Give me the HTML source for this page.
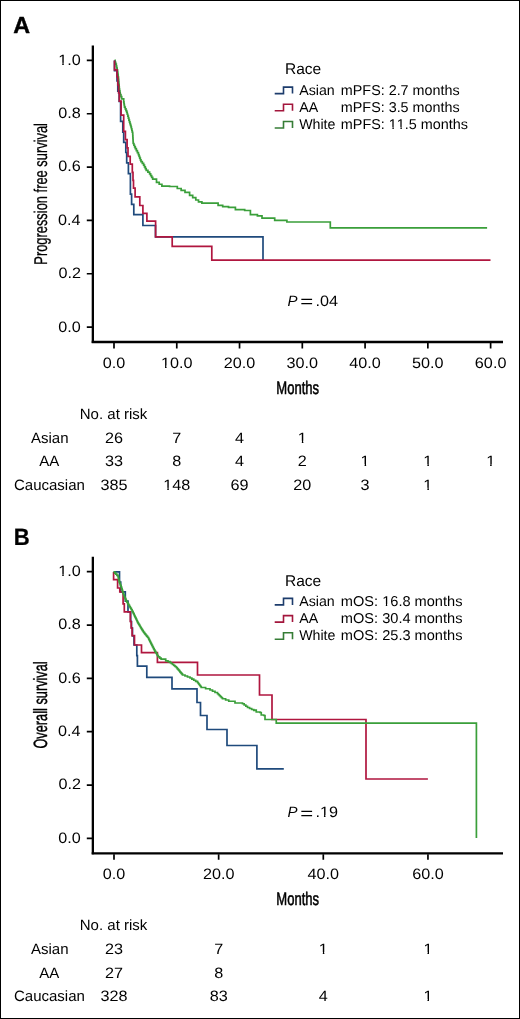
<!DOCTYPE html><html><head><meta charset="utf-8"><title>KM</title><style>html,body{margin:0;padding:0;background:#fff;}svg{display:block;will-change:transform;}text{font-family:"Liberation Sans",sans-serif;fill:#000;font-kerning:none;text-rendering:geometricPrecision;}.b{font-weight:bold;}.i{font-style:italic;}</style></head><body><svg width="520" height="1019" viewBox="0 0 520 1019"><rect x="0.5" y="0.5" width="519" height="1018" fill="#fff" stroke="#000" stroke-width="1"/>
<g transform="translate(13.90,32.90)"><text class="b" x="-0.58" y="0" font-size="23.3" stroke="#000" stroke-width="0.455" stroke-linejoin="round">A</text></g>
<path d="M92.85,45.4 V343" stroke="#000" stroke-width="2.3" fill="none"/>
<path d="M91.7,342.05 H503" stroke="#000" stroke-width="2.4" fill="none"/>
<path d="M86.8,327.1H92M86.8,273.76H92M86.8,220.42H92M86.8,167.08H92M86.8,113.74H92M86.8,60.4H92M114,343V348.5M176.77,343V348.5M239.54,343V348.5M302.31,343V348.5M365.08,343V348.5M427.85,343V348.5M490.62,343V348.5" stroke="#000" stroke-width="1.7" fill="none"/>
<g transform="translate(80.10,331.50) scale(1.0800,1)"><text class="r" x="-20.27" y="0" font-size="15">0.0</text></g>
<g transform="translate(80.10,278.16) scale(1.0800,1)"><text class="r" x="-20.10" y="0" font-size="15">0.2</text></g>
<g transform="translate(80.10,224.82) scale(1.0800,1)"><text class="r" x="-20.41" y="0" font-size="15">0.4</text></g>
<g transform="translate(80.10,171.48) scale(1.0800,1)"><text class="r" x="-20.19" y="0" font-size="15">0.6</text></g>
<g transform="translate(80.10,118.14) scale(1.0800,1)"><text class="r" x="-20.20" y="0" font-size="15">0.8</text></g>
<g transform="translate(80.10,64.80) scale(1.0800,1)"><text class="r" x="-20.27" y="0" font-size="15">1.0</text><rect x="-20.22" y="-2.20" width="3.68" height="3.20" fill="#fff"/><rect x="-15.12" y="-2.20" width="3.57" height="3.20" fill="#fff"/></g>
<g transform="translate(114.00,367.60) scale(1.0800,1)"><text class="r" x="-10.43" y="0" font-size="15">0.0</text></g>
<g transform="translate(176.77,367.60) scale(1.0800,1)"><text class="r" x="-14.60" y="0" font-size="15">10.0</text><rect x="-14.55" y="-2.20" width="3.68" height="3.20" fill="#fff"/><rect x="-9.46" y="-2.20" width="3.57" height="3.20" fill="#fff"/></g>
<g transform="translate(239.54,367.60) scale(1.0800,1)"><text class="r" x="-14.60" y="0" font-size="15">20.0</text></g>
<g transform="translate(302.31,367.60) scale(1.0800,1)"><text class="r" x="-14.60" y="0" font-size="15">30.0</text></g>
<g transform="translate(365.08,367.60) scale(1.0800,1)"><text class="r" x="-14.60" y="0" font-size="15">40.0</text></g>
<g transform="translate(427.85,367.60) scale(1.0800,1)"><text class="r" x="-14.60" y="0" font-size="15">50.0</text></g>
<g transform="translate(490.62,367.60) scale(1.0800,1)"><text class="r" x="-14.60" y="0" font-size="15">60.0</text></g>
<g transform="translate(298.05,393.90) scale(0.7179,1)"><text class="r" x="-30.26" y="0" font-size="18.2" stroke="#000" stroke-width="0.578" stroke-linejoin="round">Months</text></g>
<g transform="translate(47.30,193.75) rotate(-90) scale(0.6999,1)"><text class="r" x="-101.38" y="0" font-size="18.4" stroke="#000" stroke-width="0.270" stroke-linejoin="round">Progression free survival</text></g>
<path d="M114.5,60.4H115.1V62.27H115.7V64.13H116.3V66H116.73V68H117.17V70H117.6V72H117.8V73.6H118V75.2H118.2V76.8H118.4V78.4H118.6V80H118.74V81.8H118.88V83.6H119.02V85.4H119.16V87.2H119.3V89H119.6V90.83H119.9V92.67H120.2V94.5H120.95V96.7H121.7V98.9H123.7V101.9H123.97V103.63H124.23V105.37H124.5V107.1H125.23V108.83H125.97V110.57H126.7V112.3H127.25V114.25H127.8V116.2H128.35V118.15H128.9V120.1H129.43V121.82H129.95V123.55H130.47V125.28H131V127H131.43V128.75H131.85V130.5H132.27V132.25H132.7V134H132.8V135.9H132.9V137.8H133V139.7H133.1V141.6H133.2V143.5H133.9V145.23H134.6V146.97H135.3V148.7H136.33V150.7H137.37V152.7H138.4V154.7H139.05V156.45H139.7V158.2H140.35V159.95H141V161.7H142.3V163.4H143.6V165.1H144.47V166.83H145.33V168.57H146.2V170.3H147.9V172.05H149.6V173.8H150.63V175.6H151.67V177.4H152.7V179.2H156.5V182.3H159.2V184.25H161.9V186.2H169.6V186.5H177.3V188.5H181.15V190.4H185V192.3H189.6V195.4H192.7V197.7H195.8V200H198.5V201.9H201.9V203.1H213.5V203.1H218.1V205.4H222.7V206.6H228.5V207.3H235.4V209.6H244.7V210.5H250.4V214.6H257.4V215.8H262V218.1H274.7V218.1H274.7V220.4H286.9V220.4H286.9V222H330.3V222H330.3V227.8H487.1V227.8" stroke="#3a9f3a" stroke-width="1.7" fill="none"/>
<path d="M114.5,60.4H114.5V70.7H117V81H117.8V91.2H119.2V101.5H120.6V111.8H120.6V121.4H122.8V132.2H123.7V142.4H125.8V152.5H126.7V162.8H128.4V173.6H130.4V183.8H130.4V194.1H131.6V204.3H133.8V214.6H142.9V225.5H155.5V236.9H263V260.1" stroke="#1f4a7c" stroke-width="1.7" fill="none"/>
<path d="M114.5,60.4H114.5V69.9H117V77H117.8V85H118.6V93H119.3V101.1H121.1V115.2H123.7V131.4H125.4V139.6H127.1V147.8H128V156.3H130.2V164.2H132.3V172.3H133V180.3H133.5V188.2H135.1V196.9H139.8V205.5H142.9V213.3H146.9V221.2H155.6V236.9H172.2V246.4H211.8V260.1H490.5V260.1" stroke="#b0163f" stroke-width="1.7" fill="none"/>
<g transform="translate(286.20,74.30)"><text class="r" x="-1.27" y="0" font-size="15.5">Race</text></g>
<path d="M274.7,93.6H283.5V87.1H292.5V93.6" stroke="#1d3c6c" stroke-width="1.6" fill="none"/>
<g transform="translate(299.20,94.90)"><text class="r" x="-0.03" y="0" font-size="14.2">Asian</text></g>
<g transform="translate(341.80,94.90) scale(1.0109,1)"><text class="r" x="-0.94" y="0" font-size="14.2">mPFS: 2.7 months</text></g>
<path d="M274.7,110.8H283.5V104.3H292.5V110.8" stroke="#a3163c" stroke-width="1.6" fill="none"/>
<g transform="translate(299.20,111.95)"><text class="r" x="-0.03" y="0" font-size="14.2">AA</text></g>
<g transform="translate(341.80,111.95) scale(1.0109,1)"><text class="r" x="-0.94" y="0" font-size="14.2">mPFS: 3.5 months</text></g>
<path d="M274.7,128H283.5V121.5H292.5V128" stroke="#367d36" stroke-width="1.6" fill="none"/>
<g transform="translate(299.20,129.00)"><text class="r" x="-0.06" y="0" font-size="14.2">White</text></g>
<g transform="translate(341.80,129.00) scale(1.0143,1)"><text class="r" x="-0.94" y="0" font-size="14.2">mPFS: 11.5 months</text><rect x="46.43" y="-2.08" width="3.49" height="3.08" fill="#fff"/><rect x="51.26" y="-2.08" width="3.38" height="3.08" fill="#fff"/><rect x="54.33" y="-2.08" width="3.49" height="3.08" fill="#fff"/><rect x="59.16" y="-2.08" width="3.38" height="3.08" fill="#fff"/></g>
<g transform="translate(287.90,306.00)"><text class="i" x="-0.46" y="0" font-size="15">P</text></g>
<g transform="translate(301.30,307.20) scale(1.3200,1)"><text class="r" x="-0.82" y="0" font-size="16.8">=</text></g>
<g transform="translate(316.90,306.00) scale(1.0800,1)"><text class="r" x="-1.37" y="0" font-size="15">.04</text></g>
<g transform="translate(81.00,418.60)"><text class="r" x="-1.23" y="0" font-size="15">No. at risk</text></g>
<g transform="translate(49.30,442.90)"><text class="r" x="-18.29" y="0" font-size="15">Asian</text></g>
<g transform="translate(114.00,442.90) scale(1.0800,1)"><text class="r" x="-8.34" y="0" font-size="15">26</text></g>
<g transform="translate(176.77,442.90) scale(1.0800,1)"><text class="r" x="-4.17" y="0" font-size="15">7</text></g>
<g transform="translate(239.54,442.90) scale(1.0800,1)"><text class="r" x="-4.17" y="0" font-size="15">4</text></g>
<g transform="translate(302.31,442.90) scale(1.0800,1)"><text class="r" x="-4.17" y="0" font-size="15">1</text><rect x="-4.13" y="-2.20" width="3.68" height="3.20" fill="#fff"/><rect x="0.97" y="-2.20" width="3.57" height="3.20" fill="#fff"/></g>
<g transform="translate(49.30,466.35)"><text class="r" x="-10.00" y="0" font-size="15">AA</text></g>
<g transform="translate(114.00,466.35) scale(1.0800,1)"><text class="r" x="-8.34" y="0" font-size="15">33</text></g>
<g transform="translate(176.77,466.35) scale(1.0800,1)"><text class="r" x="-4.17" y="0" font-size="15">8</text></g>
<g transform="translate(239.54,466.35) scale(1.0800,1)"><text class="r" x="-4.17" y="0" font-size="15">4</text></g>
<g transform="translate(302.31,466.35) scale(1.0800,1)"><text class="r" x="-4.17" y="0" font-size="15">2</text></g>
<g transform="translate(365.08,466.35) scale(1.0800,1)"><text class="r" x="-4.17" y="0" font-size="15">1</text><rect x="-4.13" y="-2.20" width="3.68" height="3.20" fill="#fff"/><rect x="0.97" y="-2.20" width="3.57" height="3.20" fill="#fff"/></g>
<g transform="translate(427.85,466.35) scale(1.0800,1)"><text class="r" x="-4.17" y="0" font-size="15">1</text><rect x="-4.13" y="-2.20" width="3.68" height="3.20" fill="#fff"/><rect x="0.97" y="-2.20" width="3.57" height="3.20" fill="#fff"/></g>
<g transform="translate(490.62,466.35) scale(1.0800,1)"><text class="r" x="-4.17" y="0" font-size="15">1</text><rect x="-4.13" y="-2.20" width="3.68" height="3.20" fill="#fff"/><rect x="0.97" y="-2.20" width="3.57" height="3.20" fill="#fff"/></g>
<g transform="translate(49.30,489.80)"><text class="r" x="-35.33" y="0" font-size="15">Caucasian</text></g>
<g transform="translate(114.00,489.80) scale(1.0800,1)"><text class="r" x="-12.51" y="0" font-size="15">385</text></g>
<g transform="translate(176.77,489.80) scale(1.0800,1)"><text class="r" x="-12.51" y="0" font-size="15">148</text><rect x="-12.47" y="-2.20" width="3.68" height="3.20" fill="#fff"/><rect x="-7.37" y="-2.20" width="3.57" height="3.20" fill="#fff"/></g>
<g transform="translate(239.54,489.80) scale(1.0800,1)"><text class="r" x="-8.34" y="0" font-size="15">69</text></g>
<g transform="translate(302.31,489.80) scale(1.0800,1)"><text class="r" x="-8.34" y="0" font-size="15">20</text></g>
<g transform="translate(365.08,489.80) scale(1.0800,1)"><text class="r" x="-4.17" y="0" font-size="15">3</text></g>
<g transform="translate(427.85,489.80) scale(1.0800,1)"><text class="r" x="-4.17" y="0" font-size="15">1</text><rect x="-4.13" y="-2.20" width="3.68" height="3.20" fill="#fff"/><rect x="0.97" y="-2.20" width="3.57" height="3.20" fill="#fff"/></g>
<g transform="translate(15.30,544.50) scale(0.9400,1)"><text class="b" x="-1.57" y="0" font-size="23.5" stroke="#000" stroke-width="0.229" stroke-linejoin="round">B</text></g>
<path d="M92.85,556.7 V854.3" stroke="#000" stroke-width="2.3" fill="none"/>
<path d="M91.7,853.35 H503" stroke="#000" stroke-width="2.4" fill="none"/>
<path d="M86.8,838.4H92M86.8,785.06H92M86.8,731.72H92M86.8,678.38H92M86.8,625.04H92M86.8,571.7H92M114,854.3V859.8M218.65,854.3V859.8M323.3,854.3V859.8M427.95,854.3V859.8" stroke="#000" stroke-width="1.7" fill="none"/>
<g transform="translate(80.10,842.80) scale(1.0800,1)"><text class="r" x="-20.27" y="0" font-size="15">0.0</text></g>
<g transform="translate(80.10,789.46) scale(1.0800,1)"><text class="r" x="-20.10" y="0" font-size="15">0.2</text></g>
<g transform="translate(80.10,736.12) scale(1.0800,1)"><text class="r" x="-20.41" y="0" font-size="15">0.4</text></g>
<g transform="translate(80.10,682.78) scale(1.0800,1)"><text class="r" x="-20.19" y="0" font-size="15">0.6</text></g>
<g transform="translate(80.10,629.44) scale(1.0800,1)"><text class="r" x="-20.20" y="0" font-size="15">0.8</text></g>
<g transform="translate(80.10,576.10) scale(1.0800,1)"><text class="r" x="-20.27" y="0" font-size="15">1.0</text><rect x="-20.22" y="-2.20" width="3.68" height="3.20" fill="#fff"/><rect x="-15.12" y="-2.20" width="3.57" height="3.20" fill="#fff"/></g>
<g transform="translate(114.00,878.90) scale(1.0800,1)"><text class="r" x="-10.43" y="0" font-size="15">0.0</text></g>
<g transform="translate(218.65,878.90) scale(1.0800,1)"><text class="r" x="-14.60" y="0" font-size="15">20.0</text></g>
<g transform="translate(323.30,878.90) scale(1.0800,1)"><text class="r" x="-14.60" y="0" font-size="15">40.0</text></g>
<g transform="translate(427.95,878.90) scale(1.0800,1)"><text class="r" x="-14.60" y="0" font-size="15">60.0</text></g>
<g transform="translate(298.05,905.20) scale(0.7179,1)"><text class="r" x="-30.26" y="0" font-size="18.2" stroke="#000" stroke-width="0.578" stroke-linejoin="round">Months</text></g>
<g transform="translate(47.10,705.05) rotate(-90) scale(0.6649,1)"><text class="r" x="-65.43" y="0" font-size="19.2" stroke="#000" stroke-width="0.422" stroke-linejoin="round">Overall survival</text></g>
<path d="M113.6,571.9H119.5V571.9H119.5V582H120.7V591.9H125.3V601.2H128V611.9H130.7V621.5H131.5V628H132.5V636H134V645H136.8V655.6H137.4V666.2H146.8V677.4H172V677.4H172V688.8H197V688.8H197V702.5H200.5V715.5H207V729.5H227V745.5H256.9V768.8H283.8V768.8" stroke="#1f4a7c" stroke-width="1.7" fill="none"/>
<path d="M113.6,571.9H113.6V579.7H117.6V588H119.8V592H123.1V603.8H124.3V611.9H130.3V621.5H131.2V628H132.1V635.6H134.5V645H141.5V652.6H157.4V662.3H197.5V675H259.5V695H272V719.5H366V779H427.9V779" stroke="#b0163f" stroke-width="1.7" fill="none"/>
<path d="M113.6,571.9H114.7V573.05H115.8V574.2H116.9V575.35H118V576.5H118.25V577.53H118.5V578.57H118.75V579.6H119V580.63H119.25V581.67H119.5V582.7H119.9V583.76H120.3V584.82H120.7V585.88H121.1V586.94H121.5V588H121.83V589.08H122.17V590.17H122.5V591.25H122.83V592.33H123.17V593.42H123.5V594.5H123.97V595.62H124.43V596.73H124.9V597.85H125.37V598.97H125.83V600.08H126.3V601.2H126.94V602.27H127.59V603.33H128.23V604.4H128.88V605.47H129.52V606.53H130.17V607.6H130.81V608.67H131.46V609.73H132.1V610.8H132.6V611.85H133.1V612.9H133.6V613.95H134.1V615H134.6V616.05H135.1V617.1H135.6V618.15H136.1V619.2H136.6V620.25H137.1V621.3H137.6V622.35H138.1V623.4H138.73V624.43H139.37V625.47H140V626.5H140.63V627.53H141.27V628.57H141.9V629.6H142.53V630.63H143.17V631.67H143.8V632.7H144.72V633.84H145.64V634.98H146.56V636.12H147.48V637.26H148.4V638.4H148.9V639.4H149.4V640.4H149.9V641.4H150.4V642.4H150.9V643.4H151.4V644.4H151.9V645.4H152.48V646.54H153.06V647.68H153.64V648.82H154.22V649.96H154.8V651.1H155.5V652.26H156.2V653.42H156.9V654.58H157.6V655.74H158.3V656.9H159.7V658.05H161.1V659.2H165.7V660.9H168V661.7H170V662.5H171.25V663.5H172.5V664.5H173.75V665.5H175V666.5H176.25V667.5H177.14V668.57H178.04V669.64H178.93V670.71H179.82V671.79H180.71V672.86H181.61V673.93H182.5V675H185V676H187.5V677H190V678H191.88V679.12H193.75V680.25H195.62V681.38H197.5V682.5H198.25V683.5H199V684.5H199.75V685.5H200.5V686.5H201.25V687.5H205.62V688.75H210V690H212.5V691.25H215V692.5H217.5V693.75H218.5V694.75H219.5V695.75H220.5V696.75H221.5V697.75H222.5V698.75H225.62V700H228.75V701.25H235V703H242.5V703.75H244.17V705H245.83V706.25H247.5V707.5H249.58V708.5H251.67V709.5H253.75V710.5H255V710H256.25V712H260V712.5H261.25V715H263.75V715.5H265V719.5H275V719.5H276.25V723.1H476.4V723.1H476.4V838" stroke="#3a9f3a" stroke-width="1.7" fill="none"/>
<g transform="translate(286.20,585.60)"><text class="r" x="-1.27" y="0" font-size="15.5">Race</text></g>
<path d="M274.7,604.9H283.5V598.4H292.5V604.9" stroke="#1d3c6c" stroke-width="1.6" fill="none"/>
<g transform="translate(299.20,606.20)"><text class="r" x="-0.03" y="0" font-size="14.2">Asian</text></g>
<g transform="translate(341.80,606.20) scale(1.0280,1)"><text class="r" x="-0.94" y="0" font-size="14.2">mOS: 16.8 months</text><rect x="39.33" y="-2.08" width="3.49" height="3.08" fill="#fff"/><rect x="44.16" y="-2.08" width="3.38" height="3.08" fill="#fff"/></g>
<path d="M274.7,622.1H283.5V615.6H292.5V622.1" stroke="#a3163c" stroke-width="1.6" fill="none"/>
<g transform="translate(299.20,623.25)"><text class="r" x="-0.03" y="0" font-size="14.2">AA</text></g>
<g transform="translate(341.80,623.25) scale(1.0280,1)"><text class="r" x="-0.94" y="0" font-size="14.2">mOS: 30.4 months</text></g>
<path d="M274.7,639.3H283.5V632.8H292.5V639.3" stroke="#367d36" stroke-width="1.6" fill="none"/>
<g transform="translate(299.20,640.30)"><text class="r" x="-0.06" y="0" font-size="14.2">White</text></g>
<g transform="translate(341.80,640.30) scale(1.0280,1)"><text class="r" x="-0.94" y="0" font-size="14.2">mOS: 25.3 months</text></g>
<g transform="translate(287.90,817.30)"><text class="i" x="-0.46" y="0" font-size="15">P</text></g>
<g transform="translate(301.30,818.50) scale(1.3200,1)"><text class="r" x="-0.82" y="0" font-size="16.8">=</text></g>
<g transform="translate(316.90,817.30) scale(1.0800,1)"><text class="r" x="-1.37" y="0" font-size="15">.19</text><rect x="2.84" y="-2.20" width="3.68" height="3.20" fill="#fff"/><rect x="7.94" y="-2.20" width="3.57" height="3.20" fill="#fff"/></g>
<g transform="translate(81.00,929.90)"><text class="r" x="-1.23" y="0" font-size="15">No. at risk</text></g>
<g transform="translate(49.30,954.20)"><text class="r" x="-18.29" y="0" font-size="15">Asian</text></g>
<g transform="translate(114.00,954.20) scale(1.0800,1)"><text class="r" x="-8.34" y="0" font-size="15">23</text></g>
<g transform="translate(218.65,954.20) scale(1.0800,1)"><text class="r" x="-4.17" y="0" font-size="15">7</text></g>
<g transform="translate(323.30,954.20) scale(1.0800,1)"><text class="r" x="-4.17" y="0" font-size="15">1</text><rect x="-4.13" y="-2.20" width="3.68" height="3.20" fill="#fff"/><rect x="0.97" y="-2.20" width="3.57" height="3.20" fill="#fff"/></g>
<g transform="translate(427.95,954.20) scale(1.0800,1)"><text class="r" x="-4.17" y="0" font-size="15">1</text><rect x="-4.13" y="-2.20" width="3.68" height="3.20" fill="#fff"/><rect x="0.97" y="-2.20" width="3.57" height="3.20" fill="#fff"/></g>
<g transform="translate(49.30,977.65)"><text class="r" x="-10.00" y="0" font-size="15">AA</text></g>
<g transform="translate(114.00,977.65) scale(1.0800,1)"><text class="r" x="-8.34" y="0" font-size="15">27</text></g>
<g transform="translate(218.65,977.65) scale(1.0800,1)"><text class="r" x="-4.17" y="0" font-size="15">8</text></g>
<g transform="translate(49.30,1001.10)"><text class="r" x="-35.33" y="0" font-size="15">Caucasian</text></g>
<g transform="translate(114.00,1001.10) scale(1.0800,1)"><text class="r" x="-12.51" y="0" font-size="15">328</text></g>
<g transform="translate(218.65,1001.10) scale(1.0800,1)"><text class="r" x="-8.34" y="0" font-size="15">83</text></g>
<g transform="translate(323.30,1001.10) scale(1.0800,1)"><text class="r" x="-4.17" y="0" font-size="15">4</text></g>
<g transform="translate(427.95,1001.10) scale(1.0800,1)"><text class="r" x="-4.17" y="0" font-size="15">1</text><rect x="-4.13" y="-2.20" width="3.68" height="3.20" fill="#fff"/><rect x="0.97" y="-2.20" width="3.57" height="3.20" fill="#fff"/></g></svg></body></html>
